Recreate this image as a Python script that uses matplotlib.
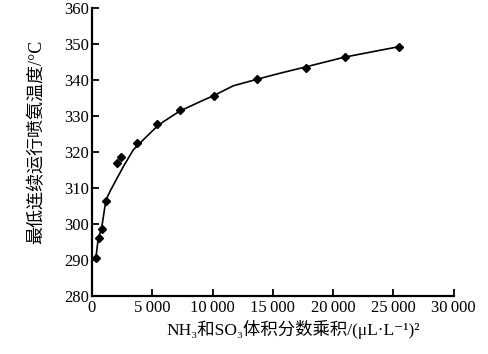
import matplotlib
matplotlib.use("Agg")
import matplotlib.pyplot as plt
from matplotlib.ticker import FuncFormatter

plt.rcParams['font.family'] = ['Liberation Serif', 'Noto Sans CJK SC', 'DejaVu Serif']

# measured points
conc = [331, 580, 855, 1160, 2045, 2400, 3700, 5415, 7290, 10140, 13675, 17710, 20965, 25470]
temp = [290.6, 296.2, 298.7, 306.5, 317.0, 318.5, 322.5, 327.7, 331.6, 335.7, 340.3, 343.4, 346.4, 349.1]

# fitted curve
curve_x = [331, 525, 801, 1160, 1550, 2595, 3425, 4530, 5360, 5910, 7290, 9225,
           10050, 11710, 13650, 15580, 17650, 20965, 25470]
curve_y = [290.7, 296.0, 298.8, 306.7, 309.4, 315.9, 320.6, 324.3, 327.0, 328.4, 331.4, 334.4,
           335.6, 338.4, 340.2, 341.9, 343.6, 346.4, 349.3]

xticks = [0, 5000, 10000, 15000, 20000, 25000, 30000]
yticks = [280, 290, 300, 310, 320, 330, 340, 350, 360]

fig = plt.figure(figsize=(4.89, 3.54), dpi=100)
ax = fig.add_axes([0.188, 0.164, 0.740, 0.813])

ax.plot(curve_x, curve_y, color='black', lw=1.2)
ax.plot(conc, temp, 'D', color='black', ms=4.5)

ax.set_xlim(0, 30000)
ax.set_ylim(280, 360)
ax.set_xticks(xticks)
ax.set_yticks(yticks)
ax.xaxis.set_major_formatter(FuncFormatter(
    lambda v, p: '0' if v == 0 else '{:,}'.format(int(v)).replace(',', '\u2009')))
ax.tick_params(direction='in', length=5, width=1.3, labelsize=12, colors='black')
ax.tick_params(axis='x', pad=3)
ax.tick_params(axis='y', pad=2)

for s in ['top', 'right']:
    ax.spines[s].set_visible(False)
for s in ['left', 'bottom']:
    ax.spines[s].set_linewidth(1.6)

ax.set_xlabel('NH\u2083和SO\u2083体积分数乘积/(μL·L\u207b\u00b9)\u00b2', fontsize=12.5)
ax.set_ylabel('最低连续运行喷氨温度/°C', fontsize=13)
ax.xaxis.set_label_coords(0.555, -0.085)
ax.yaxis.set_label_coords(-0.13, 0.535)

fig.savefig('out.png', dpi=100)
